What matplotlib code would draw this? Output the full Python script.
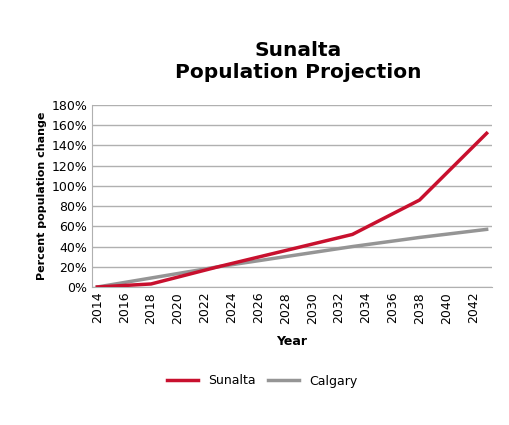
import matplotlib
matplotlib.use("Agg")
import matplotlib.pyplot as plt
from matplotlib.ticker import FuncFormatter

years_s = [2014, 2018, 2023, 2028, 2033, 2038, 2043]
sunalta = [0, 3, 20, 36, 52, 86, 152]
years_c = [2014, 2023, 2033, 2038, 2043]
calgary = [0, 20, 40, 49, 57]
xticks = list(range(2014, 2043, 2))

fig = plt.figure(figsize=(5.09, 4.25), dpi=100)
ax = fig.add_axes([92/509, 1-287/425, 400/509, 182/425])
ax.plot(years_c, calgary, color="#959595", lw=2.5, label="Calgary", zorder=2)
ax.plot(years_s, sunalta, color="#c8102e", lw=2.5, label="Sunalta", zorder=3)
ax.set_xlim(2013.6, 2043.4)
ax.set_ylim(0, 180)
ax.set_yticks(range(0, 181, 20))
ax.yaxis.set_major_formatter(FuncFormatter(lambda v, p: f"{int(v)}%"))
ax.set_xticks(xticks)
ax.tick_params(axis="x", rotation=90, labelsize=9, length=0)
ax.tick_params(axis="y", labelsize=9, length=0)
ax.grid(axis="y", color="#b0b0b0", lw=1)
ax.set_axisbelow(True)
for s in ["top", "right"]:
    ax.spines[s].set_visible(False)
ax.spines["left"].set_color("#b0b0b0")
ax.spines["bottom"].set_color("#b0b0b0")
ax.set_xlabel("Year", fontsize=9, fontweight="bold", labelpad=8)
ax.set_ylabel("Percent population change", fontsize=8, fontweight="bold", labelpad=3)
fig.text(298/509, 1-62/425, "Sunalta\nPopulation Projection", ha="center", va="center",
         fontsize=14.5, fontweight="bold", linespacing=1.2)
h, l = ax.get_legend_handles_labels()
fig.legend(h[::-1], l[::-1], loc="center", bbox_to_anchor=(262/509, 1-381/425), ncol=2,
           frameon=False, fontsize=9, handlelength=2.5, columnspacing=1)
fig.savefig("out.png")
